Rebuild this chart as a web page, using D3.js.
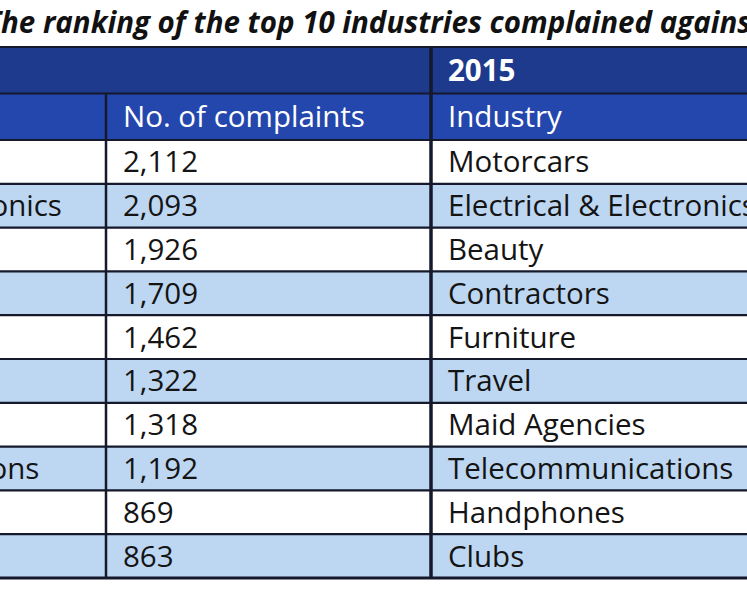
<!DOCTYPE html>
<html><head><meta charset="utf-8">
<script src="https://cdn.jsdelivr.net/npm/d3@7"></script>
<style>
html,body{margin:0;padding:0;background:#fff;overflow:hidden}
svg{display:block}
text{font-family:"Open Sans",Lato,sans-serif}
</style></head>
<body><svg id="c" width="747" height="598"></svg>
<script>
// ---- data ----
const titleText = "The ranking of the top 10 industries complained against in 2014 and 2015";
const years = ["2014", "2015"];
const headerLabels = ["Industry", "No. of complaints", "Industry", "No. of complaints"];
const industries2014 = ["Motorcars", "Electrical & Electronics", "Beauty", "Contractors", "Furniture",
  "Travel", "Renovation", "Telecommunications", "Handphones", "Timeshare"];
const complaints2014 = [2112, 2093, 1926, 1709, 1462, 1322, 1318, 1192, 869, 863];
const industries2015 = ["Motorcars", "Electrical & Electronics", "Beauty", "Contractors", "Furniture",
  "Travel", "Maid Agencies", "Telecommunications", "Handphones", "Clubs"];

// ---- layout ----
const svg = d3.select("#c");
const colEdges = [-263, 106, 431, 800, 1100]; // column borders
const x = i => colEdges[i];
const yHead = d3.scaleBand().domain([0, 1]).range([47, 140]).paddingInner(0);
const yRow = d3.scaleBand().domain(d3.range(complaints2014.length)).range([140, 578]);
const fmt = d3.format(",");
const navy = "#1d3a8c", blue = "#2447ad", light = "#bdd7f2", lineC = "#15192b";
const fs = 29.5;

svg.append("rect").attr("x", x(0)).attr("y", yHead(0)).attr("width", x(4) - x(0))
  .attr("height", yHead.bandwidth() + 2).attr("fill", navy);
svg.append("rect").attr("x", x(0)).attr("y", yHead(1)).attr("width", x(4) - x(0))
  .attr("height", yHead.bandwidth()).attr("fill", blue);

const rows = svg.append("g").selectAll("g").data(complaints2014.map((v, i) => ({
  i, ind14: industries2014[i], v14: v, ind15: industries2015[i]
}))).join("g");
rows.append("rect").attr("x", x(0)).attr("y", d => yRow(d.i)).attr("width", x(4) - x(0))
  .attr("height", yRow.bandwidth()).attr("fill", d => d.i % 2 ? light : "#ffffff");

const pad = 17;
const baseOff = 10.5;
svg.append("g").selectAll("text").data(years).join("text")
  .attr("x", (d, i) => x(i * 2) + pad)
  .attr("y", yHead(0) + yHead.bandwidth() / 2 + baseOff)
  .attr("fill", "#fff").attr("font-weight", 700).attr("font-size", fs).text(d => d);
svg.append("g").selectAll("text").data(headerLabels).join("text")
  .attr("x", (d, i) => x(i) + pad)
  .attr("y", yHead(1) + yHead.bandwidth() / 2 + baseOff)
  .attr("fill", "#fff").attr("font-size", fs).text(d => d);

const cellText = (key, col, f) => rows.append("text")
  .attr("x", x(col) + pad)
  .attr("y", d => yRow(d.i) + yRow.bandwidth() / 2 + baseOff)
  .attr("fill", "#141414").attr("font-size", fs).text(d => f ? f(d[key]) : d[key]);
cellText("ind14", 0);
cellText("v14", 1, fmt);
cellText("ind15", 2);

const hLines = [yHead(0), yHead(1)].concat(d3.range(complaints2014.length).map(i => yRow(i))).concat([yRow.range()[1]]);
svg.append("g").selectAll("line").data(hLines).join("line")
  .attr("x1", x(0)).attr("x2", x(4)).attr("y1", d => d).attr("y2", d => d)
  .attr("stroke", lineC).attr("stroke-width", (d, i) => i === hLines.length - 1 ? 3 : 2.2);
svg.append("line").attr("x1", x(1)).attr("x2", x(1)).attr("y1", yHead(1)).attr("y2", yRow.range()[1])
  .attr("stroke", lineC).attr("stroke-width", 2.5);
svg.append("line").attr("x1", x(2)).attr("x2", x(2)).attr("y1", yHead(0)).attr("y2", yRow.range()[1])
  .attr("stroke", lineC).attr("stroke-width", 3.5);

// title (left part clipped by the page edge)
const t = svg.append("text").attr("y", 33).attr("font-size", 29.5).attr("font-weight", 700)
  .attr("font-style", "italic").attr("fill", "#111").text(titleText);
const tw = t.node().getSubStringLength(0, 1);
t.attr("x", -tw + 1);
</script></body></html>
